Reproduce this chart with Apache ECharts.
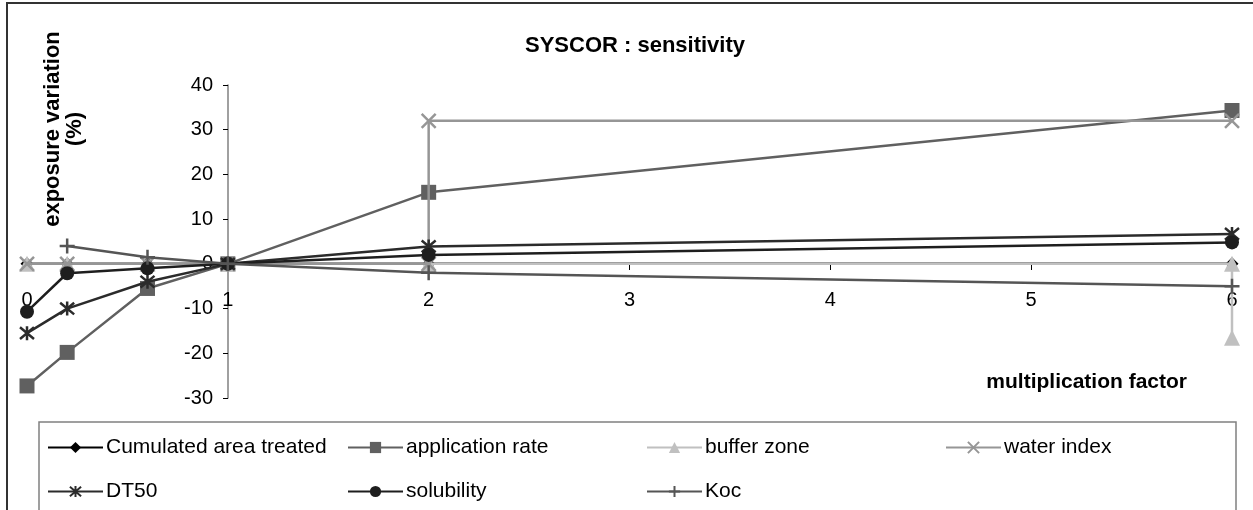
<!DOCTYPE html>
<html>
<head>
<meta charset="utf-8">
<script src="https://cdn.jsdelivr.net/npm/echarts@6/dist/echarts.min.js"></script>
<style>
html,body{margin:0;padding:0;background:#fff;}
#chart{width:1253px;height:510px;}
</style>
</head>
<body>
<div id="chart"></div>
<script>
// ---- data ----
const xTicks = [0, 1, 2, 3, 4, 5, 6];
const yTicks = [-30, -20, -10, 0, 10, 20, 30, 40];
const seriesNames = ['Cumulated area treated', 'application rate', 'buffer zone', 'water index', 'DT50', 'solubility', 'Koc'];

const xFactors = [0, 0.2, 0.6, 1, 2, 6];
const cumulatedArea = [0, 0, 0, 0, 0, 0];
const applicationRate = [-27.3, -19.8, -5.5, 0, 16, 34.3];
const bufferZoneX = [0, 0.2, 0.6, 1, 2, 6, 6];
const bufferZone = [0, 0, 0, 0, 0, 0, -16.5];
const waterIndexX = [0, 0.2, 0.6, 1, 2, 2, 6];
const waterIndex = [0, 0, 0, 0, 0, 32, 32];
const dt50 = [-15.5, -10, -4, 0, 3.9, 6.7];
const solubility = [-10.7, -2.1, -1, 0, 2, 4.8];
const kocX = [0.2, 0.6, 1, 2, 6];
const koc = [4, 1.5, 0, -2, -5];

const titleText = 'SYSCOR : sensitivity';
const yName = 'exposure variation\n(%)';
const xName = 'multiplication factor';

// ---- build ----
const pair = (xs, ys) => xs.map((x, i) => [x, ys[i]]);
const FONT = '"Liberation Sans", Arial, sans-serif';

const X_PATH = 'path://M0,0L10,10M10,0L0,10';
const STAR_PATH = 'path://M0,0L10,10M10,0L0,10M5,-1L5,11';
const PLUS_PATH = 'path://M5,0L5,10M0,5L10,5';

const styles = [
  {color: '#000000', symbol: 'diamond', size: 13},
  {color: '#606060', symbol: 'rect', size: 15},
  {color: '#c0c0c0', symbol: 'triangle', size: 16},
  {color: '#969696', symbol: X_PATH, size: 14, stroke: true},
  {color: '#2b2b2b', symbol: STAR_PATH, size: 14, stroke: true},
  {color: '#1e1e1e', symbol: 'circle', size: 14},
  {color: '#555555', symbol: PLUS_PATH, size: 15, stroke: true}
];
const datasets = [
  pair(xFactors, cumulatedArea),
  pair(xFactors, applicationRate),
  pair(bufferZoneX, bufferZone),
  pair(waterIndexX, waterIndex),
  pair(xFactors, dt50),
  pair(xFactors, solubility),
  pair(kocX, koc)
];

const series = seriesNames.map((name, i) => {
  const s = styles[i];
  return {
    name: name,
    type: 'line',
    data: datasets[i],
    symbol: s.symbol,
    symbolSize: s.size,
    showAllSymbol: true,
    animation: false,
    lineStyle: {color: s.color, width: 2.5},
    itemStyle: s.stroke
      ? {color: s.color, borderColor: s.color, borderWidth: 2.5}
      : {color: s.color, borderWidth: 0},
    emphasis: {disabled: true},
    z: 2 + i
  };
});

// legend positions (layout)
const legendPos = [
  [47, 437], [347, 437], [646, 437], [945, 437],
  [47, 481], [347, 481], [646, 481]
];
const legends = seriesNames.map((name, i) => ({
  data: [name],
  left: legendPos[i][0],
  top: legendPos[i][1],
  padding: 0,
  itemWidth: 55,
  itemHeight: 14,
  itemGap: 0,
  selectedMode: false,
  textStyle: {fontFamily: FONT, fontSize: 21, color: '#000', padding: [0, 0, 0, -2]}
}));

const option = {
  backgroundColor: '#ffffff',
  animation: false,
  grid: {left: 27, top: 85, width: 1205, height: 313, containLabel: false},
  xAxis: {
    type: 'value',
    min: 0, max: 6, interval: 1,
    position: 'bottom',
    offset: -134,
    axisLine: {onZero: false, lineStyle: {color: '#808080', width: 1.5}},
    axisTick: {show: true, length: 6, lineStyle: {color: '#000', width: 1}},
    axisLabel: {fontFamily: FONT, fontSize: 20, color: '#000', margin: 26,
      formatter: v => xTicks.includes(v) ? String(v) : ''},
    splitLine: {show: false}
  },
  yAxis: {
    type: 'value',
    min: -30, max: 40, interval: 10,
    position: 'left',
    offset: -201,
    axisLine: {show: true, onZero: false, lineStyle: {color: '#808080', width: 1.5}},
    axisTick: {show: true, length: 5, lineStyle: {color: '#000', width: 1}},
    axisLabel: {fontFamily: FONT, fontSize: 20, color: '#000', margin: 15,
      formatter: v => yTicks.includes(v) ? String(v) : ''},
    splitLine: {show: false}
  },
  legend: legends,
  series: series,
  graphic: [
    {type: 'rect', shape: {x: 7, y: 3, width: 1270, height: 540}, silent: true, z: -10,
      style: {fill: 'none', stroke: '#333', lineWidth: 2}},
    {type: 'rect', shape: {x: 39, y: 422, width: 1197, height: 120}, silent: true, z: -9,
      style: {fill: 'none', stroke: '#808080', lineWidth: 1.5}},
    {type: 'text', silent: true,
      style: {text: titleText, font: 'bold 22px ' + FONT, fill: '#000', x: 635, y: 46, align: 'center', verticalAlign: 'middle'}},
    {type: 'text', x: 64, y: 129, rotation: Math.PI / 2, silent: true,
      style: {text: yName, font: 'bold 22px ' + FONT, fill: '#000', align: 'center', verticalAlign: 'middle', lineHeight: 22}},
    {type: 'text', silent: true,
      style: {text: xName, font: 'bold 21px ' + FONT, fill: '#000', x: 1187, y: 382, align: 'right', verticalAlign: 'middle'}}
  ]
};

const chart = echarts.init(document.getElementById('chart'), null, {renderer: 'canvas'});
chart.setOption(option);
</script>
</body>
</html>
